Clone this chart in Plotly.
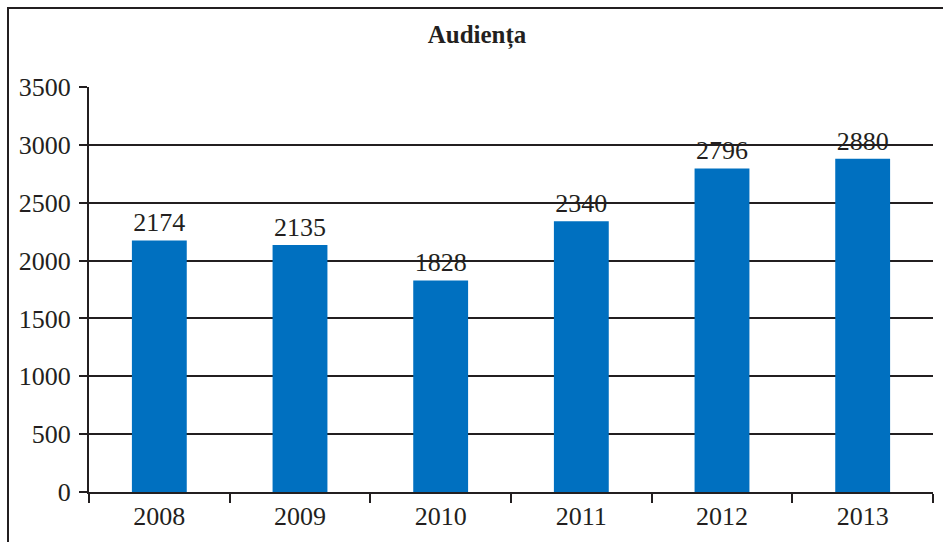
import plotly.graph_objects as go

years = ["2008", "2009", "2010", "2011", "2012", "2013"]
audience = [2174, 2135, 1828, 2340, 2796, 2880]
y_ticks = [0, 500, 1000, 1500, 2000, 2500, 3000, 3500]
title_text = "<b>Audiența</b>"

W, H = 943, 542
L, R, T, B = 89, 10, 87, 50
pw, ph = W - L - R, H - T - B
line_col = "#231F20"
font_family = "Liberation Serif"

fig = go.Figure()
fig.add_trace(go.Bar(
    x=years, y=audience, width=0.39,
    marker=dict(color="#0070C0", line=dict(width=0)),
    text=[str(v) for v in audience], textposition="outside",
    textfont=dict(family=font_family, size=26, color="#231F20"),
    cliponaxis=False,
))

def px_x(p):
    return (p - L) / pw

def px_y(p):
    return (H - B - p) / ph

fig.add_shape(type="rect", xref="paper", yref="paper",
              x0=px_x(8), x1=px_x(990), y0=px_y(600), y1=px_y(8),
              line=dict(color=line_col, width=2), fillcolor="rgba(0,0,0,0)", layer="below")

fig.update_layout(
    width=W, height=H,
    margin=dict(l=L, r=R, t=T, b=B, pad=0),
    paper_bgcolor="white", plot_bgcolor="white",
    font=dict(family=font_family, size=26, color="#231F20"),
    title=dict(text=title_text, x=477 / W, xanchor="center", xref="container",
               y=1 - 34 / H, yanchor="middle", yref="container",
               font=dict(family=font_family, size=25, color="#231F20")),
    showlegend=False,
    bargap=0.6,
)
fig.update_xaxes(
    type="category", showline=True, linecolor=line_col, linewidth=2,
    ticks="outside", tickson="boundaries", ticklen=9, tickwidth=2, tickcolor=line_col,
    showgrid=False, tickfont=dict(family=font_family, size=26, color="#231F20"),
)
fig.update_yaxes(
    range=[0, 3500], tickvals=y_ticks, showline=True, linecolor=line_col, linewidth=2,
    ticks="outside", ticklen=8, tickwidth=2, tickcolor=line_col,
    showgrid=True, gridcolor=line_col, gridwidth=2, zeroline=False,
    tickfont=dict(family=font_family, size=26, color="#231F20"),
    ticklabelstandoff=3,
)

fig.write_html(
    "out.html",
    config={"displayModeBar": False},
    post_script="document.body.style.margin='0';document.body.style.overflow='hidden';",
)
